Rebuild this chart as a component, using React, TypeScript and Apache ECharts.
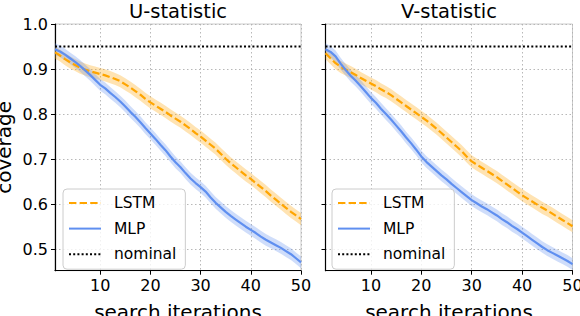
import React, { useEffect, useRef } from "react";
import * as echarts from "echarts";

const iterations = [
  1, 2, 3, 4, 5, 6, 7, 8, 9, 10, 11, 12, 13, 14, 15, 16, 17, 18, 19, 20, 21, 22, 23, 24, 25,
  26, 27, 28, 29, 30, 31, 32, 33, 34, 35, 36, 37, 38, 39, 40, 41, 42, 43, 44, 45, 46, 47, 48, 49, 50,
];

// U-statistic panel
const lstmU = [
  0.937, 0.93, 0.922, 0.915, 0.909, 0.903, 0.899, 0.895, 0.892, 0.889, 0.886, 0.882, 0.878, 0.873, 0.866,
  0.859, 0.851, 0.843, 0.834, 0.826, 0.819, 0.812, 0.805, 0.797, 0.79, 0.783, 0.775, 0.767, 0.758, 0.75,
  0.741, 0.732, 0.723, 0.712, 0.701, 0.691, 0.682, 0.673, 0.664, 0.656, 0.647, 0.638, 0.629, 0.619, 0.61,
  0.601, 0.592, 0.583, 0.575, 0.567,
];
const mlpU = [
  0.944, 0.939, 0.932, 0.924, 0.916, 0.907, 0.897, 0.887, 0.876, 0.865, 0.857, 0.847, 0.838, 0.828, 0.817,
  0.805, 0.794, 0.782, 0.769, 0.757, 0.745, 0.732, 0.72, 0.706, 0.693, 0.682, 0.669, 0.657, 0.647, 0.638,
  0.628, 0.615, 0.603, 0.593, 0.583, 0.574, 0.566, 0.558, 0.55, 0.543, 0.536, 0.528, 0.521, 0.515, 0.509,
  0.503, 0.496, 0.489, 0.48, 0.471,
];

// V-statistic panel
const lstmV = [
  0.935, 0.924, 0.913, 0.905, 0.899, 0.893, 0.887, 0.88, 0.874, 0.868, 0.862, 0.855, 0.849, 0.842, 0.834,
  0.826, 0.818, 0.81, 0.802, 0.794, 0.786, 0.777, 0.768, 0.758, 0.748, 0.738, 0.728, 0.718, 0.706, 0.695,
  0.688, 0.681, 0.674, 0.667, 0.66, 0.652, 0.644, 0.636, 0.628, 0.62, 0.613, 0.606, 0.599, 0.592, 0.586,
  0.579, 0.572, 0.565, 0.558, 0.551,
];
const mlpV = [
  0.944, 0.938, 0.928, 0.912, 0.898, 0.885, 0.874, 0.862, 0.849, 0.836, 0.825, 0.812, 0.8, 0.788, 0.775,
  0.762, 0.748, 0.735, 0.721, 0.706, 0.694, 0.684, 0.674, 0.664, 0.655, 0.645, 0.636, 0.627, 0.618, 0.609,
  0.602, 0.595, 0.589, 0.582, 0.575, 0.567, 0.56, 0.552, 0.545, 0.537, 0.529, 0.521, 0.513, 0.505, 0.498,
  0.492, 0.486, 0.48, 0.474, 0.467,
];

// confidence band half-widths
const lstmCi = 0.0135;
const mlpCi = 0.013;

const nominal = 0.95;

const panelTitles = ["U-statistic", "V-statistic"];
const yTicks = [0.5, 0.6, 0.7, 0.8, 0.9, 1.0];
const xTicks = [10, 20, 30, 40, 50];
const legendNames = ["LSTM", "MLP", "nominal"];

const ORANGE = "#FFA500";
const ORANGE_BAND = "rgba(255,170,20,0.33)";
const BLUE = "#5F8FF0";
const BLUE_BAND = "rgba(95,143,240,0.3)";
const FONT = "DejaVu Sans";

function bandSeries(mean: number[], ci: number, fill: string, idx: number, z: number) {
  return {
    type: "custom",
    name: "band",
    xAxisIndex: idx,
    yAxisIndex: idx,
    silent: true,
    clip: true,
    z,
    data: [[iterations[0], mean[0]]],
    renderItem: (_params: any, api: any) => {
      const upper = iterations.map((x, i) => api.coord([x, mean[i] + ci]));
      const lower = iterations.map((x, i) => api.coord([x, mean[i] - ci])).reverse();
      return {
        type: "polygon",
        shape: { points: upper.concat(lower) },
        style: { fill, stroke: "none" },
      };
    },
  };
}

function lineSeries(name: string, values: number[], color: string, type: any, width: number, idx: number, z: number) {
  return {
    type: "line",
    name,
    xAxisIndex: idx,
    yAxisIndex: idx,
    symbol: "none",
    showSymbol: false,
    z,
    data: iterations.map((x, i) => [x, values[i]]),
    lineStyle: { color, width, type, cap: "butt" },
    itemStyle: { color },
  };
}

export default function App() {
  const ref = useRef<HTMLDivElement>(null);
  useEffect(() => {
    document.body.style.margin = "0";
    if (!ref.current) return;
    const chart = echarts.init(ref.current, null, { renderer: "svg" });
    const grids = [
      { left: 55, top: 24, width: 246, height: 246.7 },
      { left: 325.5, top: 24, width: 247, height: 246.7 },
    ];
    const panels = [
      { lstm: lstmU, mlp: mlpU },
      { lstm: lstmV, mlp: mlpV },
    ];
    const series: any[] = [];
    panels.forEach((p, idx) => {
      series.push(bandSeries(p.lstm, lstmCi, ORANGE_BAND, idx, 1));
      series.push(lineSeries("LSTM", p.lstm, ORANGE, [7.4, 3.2], 2.2, idx, 3));
      series.push(bandSeries(p.mlp, mlpCi, BLUE_BAND, idx, 2));
      series.push(lineSeries("MLP", p.mlp, BLUE, "solid", 2.2, idx, 4));
      series.push(
        lineSeries(
          "nominal",
          iterations.map(() => nominal),
          "#000000",
          [2, 2.2],
          2,
          idx,
          5
        )
      );
    });

    const option: any = {
      animation: false,
      textStyle: { fontFamily: FONT },
      grid: grids.map((g) => ({
        ...g,
        show: true,
        borderColor: "#cccccc",
        borderWidth: 1,
        backgroundColor: "transparent",
        containLabel: false,
        outerBoundsMode: "none",
      })),
      xAxis: grids.map((_, idx) => ({
        type: "value",
        gridIndex: idx,
        min: 1,
        max: 50,
        name: "search iterations",
        nameLocation: "middle",
        nameGap: 31,
        nameTextStyle: { fontSize: 20, color: "#000", fontFamily: FONT },
        axisLine: { show: true, onZero: false, lineStyle: { color: "#000", width: 1.2 } },
        axisTick: { show: true, inside: false, length: 4, customValues: xTicks, lineStyle: { color: "#000" } },
        axisLabel: {
          show: true,
          customValues: xTicks,
          fontSize: 16,
          color: "#000",
          margin: 7,
          fontFamily: FONT,
          formatter: (v: number) => String(v),
        },
        splitLine: { show: true, lineStyle: { color: "#b0b0b0", type: [1.5, 2.5], width: 0.9 } },
      })),
      yAxis: grids.map((_, idx) => ({
        type: "value",
        gridIndex: idx,
        min: 0.4524,
        max: 1.0,
        name: idx === 0 ? "coverage" : "",
        nameLocation: "middle",
        nameGap: 41,
        nameRotate: 90,
        nameTextStyle: { fontSize: 20, color: "#000", fontFamily: FONT },
        axisLine: { show: true, onZero: false, lineStyle: { color: "#000", width: 1.2 } },
        axisTick: { show: true, inside: false, length: 4, customValues: yTicks, lineStyle: { color: "#000" } },
        axisLabel: {
          show: idx === 0,
          customValues: yTicks,
          fontSize: 16,
          color: "#000",
          margin: 7,
          fontFamily: FONT,
          formatter: (v: number) => v.toFixed(1),
        },
        splitLine: { show: true, lineStyle: { color: "#b0b0b0", type: [1.5, 2.5], width: 0.9 } },
      })),
      legend: [63, 332].map((left) => ({
        data: legendNames,
        left,
        top: 189,
        orient: "vertical",
        itemWidth: 32,
        itemHeight: 14,
        itemGap: 9.6,
        padding: [6, 9, 7, 5],
        backgroundColor: "rgba(255,255,255,0.8)",
        borderColor: "#cccccc",
        borderWidth: 1,
        borderRadius: 4,
        selectedMode: false,
        itemStyle: { opacity: 0 },
        textStyle: { fontSize: 15.5, color: "#000", fontFamily: FONT, padding: [0, 0, 0, 8] },
      })),
      graphic: panelTitles.map((t, idx) => ({
        type: "text",
        x: grids[idx].left + grids[idx].width / 2,
        y: 11,
        style: {
          text: t,
          fontSize: 19.5,
          fontFamily: FONT,
          fill: "#000",
          textAlign: "center",
          textVerticalAlign: "middle",
        },
      })),
      series,
    };
    chart.setOption(option);
    return () => chart.dispose();
  }, []);
  return <div ref={ref} style={{ width: 580, height: 316 }} />;
}
